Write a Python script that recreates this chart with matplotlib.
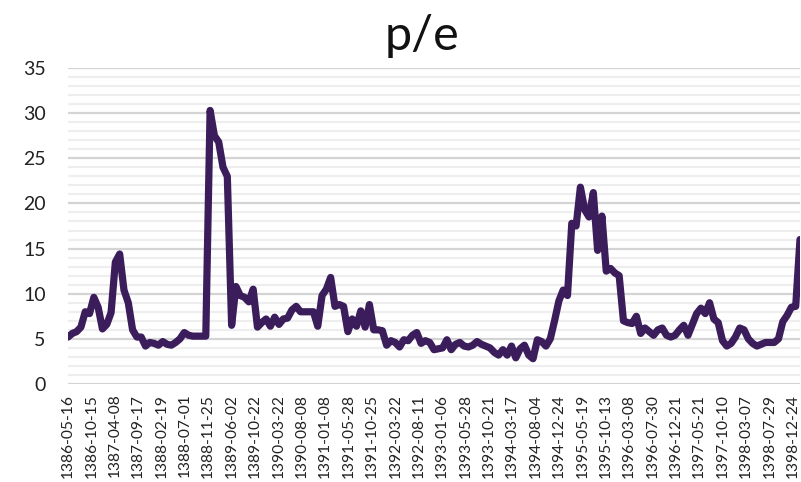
import numpy as np
import matplotlib.pyplot as plt
from matplotlib.ticker import MultipleLocator

# tick labels along the x axis
dates = ["1386-05-16", "1386-10-15", "1387-04-08", "1387-09-17", "1388-02-19",
         "1388-07-01", "1388-11-25", "1389-06-02", "1389-10-22", "1390-03-22",
         "1390-08-08", "1391-01-08", "1391-05-28", "1391-10-25", "1392-03-22",
         "1392-08-11", "1393-01-06", "1393-05-28", "1393-10-21", "1394-03-17",
         "1394-08-04", "1394-12-24", "1395-05-19", "1395-10-13", "1396-03-08",
         "1396-07-30", "1396-12-21", "1397-05-21", "1397-10-10", "1398-03-07",
         "1398-07-29", "1398-12-24"]
label_step = 5.43  # samples between two labels

# p/e values
pe = [5.2, 5.6, 5.8, 6.3, 8.0, 7.8, 9.6, 8.5, 6.1, 6.6,
      7.9, 13.5, 14.4, 10.4, 9.0, 6.0, 5.2, 5.2, 4.2, 4.6,
      4.5, 4.3, 4.7, 4.4, 4.3, 4.6, 5.0, 5.7, 5.4, 5.3,
      5.3, 5.3, 5.3, 30.3, 27.5, 26.8, 24.0, 23.0, 6.5, 10.8,
      9.8, 9.6, 9.1, 10.5, 6.3, 6.8, 7.2, 6.4, 7.4, 6.6,
      7.2, 7.3, 8.2, 8.6, 8.0, 8.0, 8.0, 8.0, 6.4, 9.8,
      10.5, 11.8, 8.6, 8.8, 8.6, 5.8, 7.2, 6.4, 8.1, 6.3,
      8.8, 6.0, 6.0, 5.9, 4.3, 4.8, 4.6, 4.1, 4.9, 4.8,
      5.4, 5.7, 4.5, 4.8, 4.6, 3.8, 3.9, 4.0, 4.9, 3.8,
      4.4, 4.6, 4.2, 4.1, 4.3, 4.7, 4.4, 4.2, 4.0, 3.5,
      3.2, 3.8, 3.2, 4.2, 2.9, 3.9, 4.3, 3.2, 2.8, 4.9,
      4.7, 4.2, 5.0, 7.0, 9.2, 10.4, 9.8, 17.8, 17.5, 21.8,
      19.3, 18.5, 21.2, 14.8, 18.6, 12.5, 12.8, 12.3, 12.0, 7.0,
      6.8, 6.7, 7.5, 5.6, 6.2, 5.8, 5.4, 6.0, 6.2, 5.4,
      5.2, 5.4, 6.0, 6.5, 5.4, 6.6, 7.8, 8.4, 7.8, 9.0,
      7.2, 6.8, 4.8, 4.2, 4.5, 5.2, 6.2, 6.0, 5.0, 4.5,
      4.2, 4.4, 4.6, 4.6, 4.6, 5.0, 6.9, 7.6, 8.5, 8.6,
      16.0]

plt.rcParams['font.family'] = ['Lato', 'DejaVu Sans']

fig = plt.figure(figsize=(8.01, 4.82), dpi=100)
ax = fig.add_axes([68 / 801, 1 - 384 / 482, 732 / 801, 316 / 482])

x = np.arange(len(pe))
ax.plot(x, pe, color="#3b1d5c", linewidth=5.2,
        solid_joinstyle="round", solid_capstyle="round", zorder=3)

ax.set_xlim(0, len(pe) - 1)
ax.set_ylim(0, 35)
ax.yaxis.set_major_locator(MultipleLocator(5))
ax.yaxis.set_minor_locator(MultipleLocator(1))
ax.grid(True, which="major", axis="y", color="#d4d4d4", linewidth=1.6)
ax.grid(True, which="minor", axis="y", color="#eeeeee", linewidth=1.6)
ax.set_axisbelow(True)

tick_pos = np.arange(len(dates)) * label_step
ax.set_xticks(tick_pos)
ax.set_xticklabels(dates, rotation=90, fontsize=11.2, color="#222222")
ax.tick_params(axis="x", length=0, pad=7)
ax.tick_params(axis="y", which="both", length=0, pad=16, labelsize=14, labelcolor="#222222")

for s in ax.spines.values():
    s.set_visible(False)

fig.text(422 / 801, 1 - 50 / 482, "p/e", ha="center", va="baseline",
         fontsize=35, color="#111111")

fig.savefig("out.png", dpi=100)
